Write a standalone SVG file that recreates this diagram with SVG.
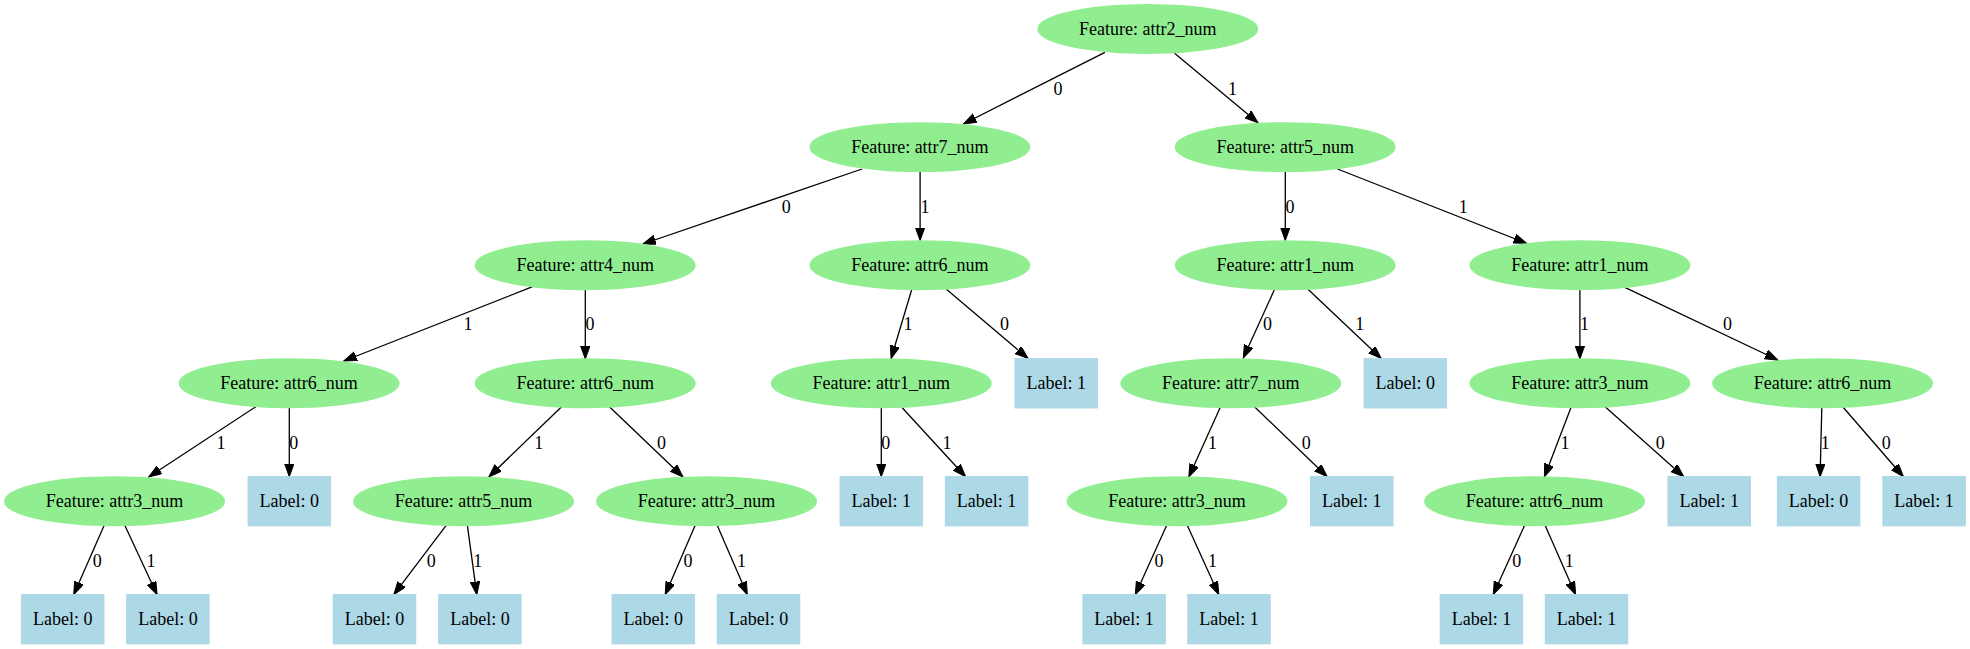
<svg xmlns="http://www.w3.org/2000/svg" width="1970" height="649" viewBox="0 0 1970 649">
<style>
.f ellipse{fill:#90ee90;stroke:#90ee90;stroke-width:1.3}
.l rect{fill:#add8e6;stroke:#add8e6;stroke-width:1.3}
text{font-family:"Liberation Serif","Times New Roman",serif;font-size:18px;fill:#000;text-anchor:middle}
#edges line{stroke:#000;stroke-width:1.3;marker-end:url(#ah)}
</style>
<defs>
<marker id="ah" markerUnits="userSpaceOnUse" markerWidth="14" markerHeight="10" refX="13" refY="4.7" orient="auto" viewBox="0 0 14 10">
<path d="M0,0 L13,4.7 L0,9.4 z" fill="#000" stroke="#000" stroke-width="1"/>
</marker>
</defs>
<rect width="1970" height="649" fill="#fff"/>
<g id="edges">
<line x1="1104.9" y1="52.3" x2="963.4" y2="124"/>
<line x1="1174.6" y1="53.3" x2="1258" y2="122.7"/>
<line x1="862" y1="169" x2="642.9" y2="244"/>
<line x1="920.1" y1="171.7" x2="920.1" y2="240.5"/>
<line x1="1285.3" y1="171.7" x2="1285.3" y2="240.5"/>
<line x1="1337.5" y1="169" x2="1526.5" y2="243.3"/>
<line x1="532.6" y1="286.7" x2="343.8" y2="361"/>
<line x1="585.3" y1="289.3" x2="585.3" y2="359"/>
<line x1="911.6" y1="290" x2="891.1" y2="358.5"/>
<line x1="946.4" y1="289.3" x2="1028.1" y2="358.5"/>
<line x1="1274.6" y1="289.3" x2="1243.3" y2="358"/>
<line x1="1308" y1="289.3" x2="1381.2" y2="358.5"/>
<line x1="1579.9" y1="289.3" x2="1579.9" y2="359"/>
<line x1="1624.8" y1="287.3" x2="1777.8" y2="360"/>
<line x1="255.8" y1="406.7" x2="148.7" y2="477"/>
<line x1="289.3" y1="407.7" x2="289.3" y2="476.7"/>
<line x1="561.6" y1="406.7" x2="488.8" y2="477"/>
<line x1="609.4" y1="406.7" x2="683" y2="477"/>
<line x1="881.3" y1="407.7" x2="881.3" y2="476.7"/>
<line x1="902.2" y1="407.7" x2="965.6" y2="476.7"/>
<line x1="1220.1" y1="407.7" x2="1188.8" y2="477"/>
<line x1="1254.5" y1="406.7" x2="1327.2" y2="476.7"/>
<line x1="1570.9" y1="407.7" x2="1544.4" y2="477"/>
<line x1="1605.1" y1="406.7" x2="1683.8" y2="476.7"/>
<line x1="1821.8" y1="407.7" x2="1820.1" y2="476.7"/>
<line x1="1842.7" y1="406.7" x2="1903.4" y2="476.7"/>
<line x1="104" y1="525.7" x2="73.7" y2="594.7"/>
<line x1="125" y1="525.7" x2="157.1" y2="594.7"/>
<line x1="446" y1="525.7" x2="393.8" y2="594.7"/>
<line x1="467.4" y1="525.7" x2="476.8" y2="594.7"/>
<line x1="695" y1="525.7" x2="665.2" y2="594.7"/>
<line x1="717.4" y1="525.7" x2="747.3" y2="594.7"/>
<line x1="1166.5" y1="525.7" x2="1135.3" y2="594.7"/>
<line x1="1187.5" y1="525.7" x2="1218.8" y2="594.7"/>
<line x1="1524.4" y1="525.7" x2="1493.2" y2="594.7"/>
<line x1="1545.3" y1="525.7" x2="1575.6" y2="594.7"/>
</g>
<g id="edge-labels">
<text x="1058" y="95">0</text>
<text x="1232.6" y="95">1</text>
<text x="786.2" y="213.3">0</text>
<text x="925" y="213.3">1</text>
<text x="1290" y="213.3">0</text>
<text x="1463.2" y="213.3">1</text>
<text x="467.9" y="330.3">1</text>
<text x="590" y="330.3">0</text>
<text x="908" y="330.3">1</text>
<text x="1004.5" y="330.3">0</text>
<text x="1267.5" y="330.3">0</text>
<text x="1359.8" y="330.3">1</text>
<text x="1584.5" y="330.3">1</text>
<text x="1727.4" y="330.3">0</text>
<text x="221" y="449.3">1</text>
<text x="293.8" y="449.3">0</text>
<text x="538.8" y="449.3">1</text>
<text x="661.6" y="449.3">0</text>
<text x="885.8" y="449.3">0</text>
<text x="946.9" y="449.3">1</text>
<text x="1212.5" y="449.3">1</text>
<text x="1306.2" y="449.3">0</text>
<text x="1565" y="449.3">1</text>
<text x="1660.3" y="449.3">0</text>
<text x="1825.2" y="449.3">1</text>
<text x="1886.3" y="449.3">0</text>
<text x="97.3" y="566.7">0</text>
<text x="150.9" y="566.7">1</text>
<text x="431.3" y="566.7">0</text>
<text x="477.7" y="566.7">1</text>
<text x="688" y="566.7">0</text>
<text x="741.5" y="566.7">1</text>
<text x="1158.9" y="566.7">0</text>
<text x="1212.5" y="566.7">1</text>
<text x="1516.7" y="566.7">0</text>
<text x="1569.2" y="566.7">1</text>
</g>
<g id="n_root" class="f"><ellipse cx="1147.8" cy="29" rx="109.8" ry="24.3"/><text x="1147.8" y="35">Feature: attr2_num</text></g>
<g id="n_attr7_a" class="f"><ellipse cx="919.9" cy="147.1" rx="109.8" ry="24.3"/><text x="919.9" y="153.1">Feature: attr7_num</text></g>
<g id="n_attr5_a" class="f"><ellipse cx="1285.2" cy="147.1" rx="109.8" ry="24.3"/><text x="1285.2" y="153.1">Feature: attr5_num</text></g>
<g id="n_attr4_a" class="f"><ellipse cx="585.2" cy="265.2" rx="109.8" ry="24.3"/><text x="585.2" y="271.2">Feature: attr4_num</text></g>
<g id="n_attr6_a" class="f"><ellipse cx="919.9" cy="265.2" rx="109.8" ry="24.3"/><text x="919.9" y="271.2">Feature: attr6_num</text></g>
<g id="n_attr1_a" class="f"><ellipse cx="1285.2" cy="265.2" rx="109.8" ry="24.3"/><text x="1285.2" y="271.2">Feature: attr1_num</text></g>
<g id="n_attr1_b" class="f"><ellipse cx="1579.9" cy="265.2" rx="109.8" ry="24.3"/><text x="1579.9" y="271.2">Feature: attr1_num</text></g>
<g id="n_attr6_b" class="f"><ellipse cx="289.1" cy="383.3" rx="109.8" ry="24.3"/><text x="289.1" y="389.3">Feature: attr6_num</text></g>
<g id="n_attr6_c" class="f"><ellipse cx="585.2" cy="383.3" rx="109.8" ry="24.3"/><text x="585.2" y="389.3">Feature: attr6_num</text></g>
<g id="n_attr1_c" class="f"><ellipse cx="881.3" cy="383.3" rx="109.8" ry="24.3"/><text x="881.3" y="389.3">Feature: attr1_num</text></g>
<g id="n_l1_a" class="l"><rect x="1015.2" y="358.8" width="82.2" height="49"/><text x="1056.3" y="389.3">Label: 1</text></g>
<g id="n_attr7_b" class="f"><ellipse cx="1230.8" cy="383.3" rx="109.8" ry="24.3"/><text x="1230.8" y="389.3">Feature: attr7_num</text></g>
<g id="n_l0_a" class="l"><rect x="1364.2" y="358.8" width="82.2" height="49"/><text x="1405.3" y="389.3">Label: 0</text></g>
<g id="n_attr3_a" class="f"><ellipse cx="1579.9" cy="383.3" rx="109.8" ry="24.3"/><text x="1579.9" y="389.3">Feature: attr3_num</text></g>
<g id="n_attr6_d" class="f"><ellipse cx="1822.6" cy="383.3" rx="109.8" ry="24.3"/><text x="1822.6" y="389.3">Feature: attr6_num</text></g>
<g id="n_attr3_b" class="f"><ellipse cx="114.5" cy="501.2" rx="109.8" ry="24.3"/><text x="114.5" y="507.2">Feature: attr3_num</text></g>
<g id="n_l0_b" class="l"><rect x="248.2" y="476.7" width="82.2" height="49"/><text x="289.3" y="507.2">Label: 0</text></g>
<g id="n_attr5_b" class="f"><ellipse cx="463.6" cy="501.2" rx="109.8" ry="24.3"/><text x="463.6" y="507.2">Feature: attr5_num</text></g>
<g id="n_attr3_c" class="f"><ellipse cx="706.5" cy="501.2" rx="109.8" ry="24.3"/><text x="706.5" y="507.2">Feature: attr3_num</text></g>
<g id="n_l1_b" class="l"><rect x="840.2" y="476.7" width="82.2" height="49"/><text x="881.3" y="507.2">Label: 1</text></g>
<g id="n_l1_c" class="l"><rect x="945.5" y="476.7" width="82.2" height="49"/><text x="986.6" y="507.2">Label: 1</text></g>
<g id="n_attr3_d" class="f"><ellipse cx="1177" cy="501.2" rx="109.8" ry="24.3"/><text x="1177" y="507.2">Feature: attr3_num</text></g>
<g id="n_l1_d" class="l"><rect x="1310.7" y="476.7" width="82.2" height="49"/><text x="1351.8" y="507.2">Label: 1</text></g>
<g id="n_attr6_e" class="f"><ellipse cx="1534.6" cy="501.2" rx="109.8" ry="24.3"/><text x="1534.6" y="507.2">Feature: attr6_num</text></g>
<g id="n_l1_e" class="l"><rect x="1668.1" y="476.7" width="82.2" height="49"/><text x="1709.2" y="507.2">Label: 1</text></g>
<g id="n_l0_c" class="l"><rect x="1777.5" y="476.7" width="82.2" height="49"/><text x="1818.6" y="507.2">Label: 0</text></g>
<g id="n_l1_f" class="l"><rect x="1883" y="476.7" width="82.2" height="49"/><text x="1924.1" y="507.2">Label: 1</text></g>
<g id="n_l0_d" class="l"><rect x="21.6" y="594.7" width="82.2" height="49"/><text x="62.7" y="625.2">Label: 0</text></g>
<g id="n_l0_e" class="l"><rect x="126.8" y="594.7" width="82.2" height="49"/><text x="167.9" y="625.2">Label: 0</text></g>
<g id="n_l0_f" class="l"><rect x="333.4" y="594.7" width="82.2" height="49"/><text x="374.5" y="625.2">Label: 0</text></g>
<g id="n_l0_g" class="l"><rect x="438.8" y="594.7" width="82.2" height="49"/><text x="479.9" y="625.2">Label: 0</text></g>
<g id="n_l0_h" class="l"><rect x="612.2" y="594.7" width="82.2" height="49"/><text x="653.3" y="625.2">Label: 0</text></g>
<g id="n_l0_i" class="l"><rect x="717.4" y="594.7" width="82.2" height="49"/><text x="758.5" y="625.2">Label: 0</text></g>
<g id="n_l1_g" class="l"><rect x="1083" y="594.7" width="82.2" height="49"/><text x="1124.1" y="625.2">Label: 1</text></g>
<g id="n_l1_h" class="l"><rect x="1187.9" y="594.7" width="82.2" height="49"/><text x="1229" y="625.2">Label: 1</text></g>
<g id="n_l1_i" class="l"><rect x="1440.3" y="594.7" width="82.2" height="49"/><text x="1481.4" y="625.2">Label: 1</text></g>
<g id="n_l1_j" class="l"><rect x="1545.4" y="594.7" width="82.2" height="49"/><text x="1586.5" y="625.2">Label: 1</text></g>
</svg>
